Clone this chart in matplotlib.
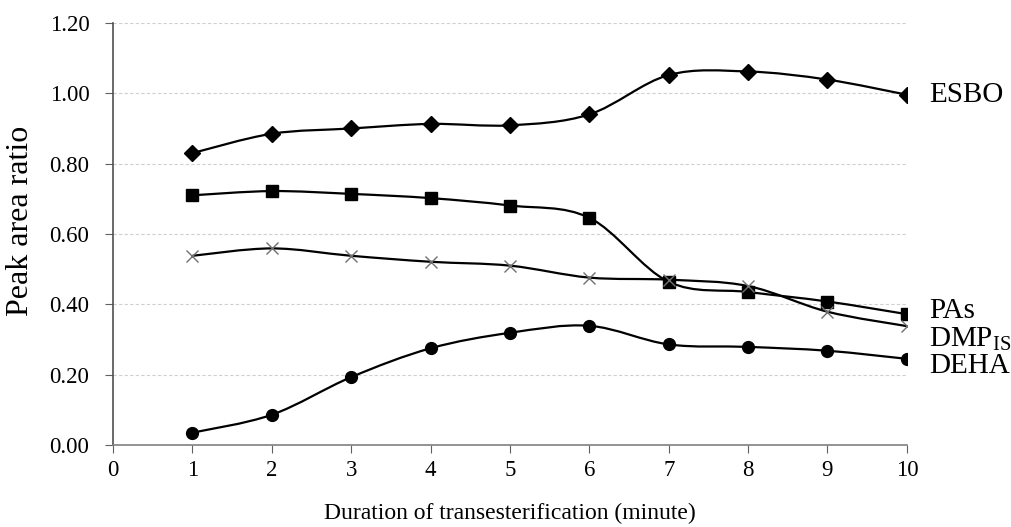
import numpy as np
import matplotlib
matplotlib.use("Agg")
import matplotlib.pyplot as plt
from matplotlib.path import Path
from matplotlib.patches import PathPatch

plt.rcParams['font.family'] = ['Liberation Serif', 'DejaVu Serif']
plt.rcParams['mathtext.fontset'] = 'custom'
plt.rcParams['mathtext.rm'] = 'Liberation Serif'

minutes = [1, 2, 3, 4, 5, 6, 7, 8, 9, 10]
esbo = [0.830, 0.885, 0.900, 0.913, 0.909, 0.940, 1.052, 1.062, 1.039, 0.996]
pas = [0.710, 0.722, 0.714, 0.702, 0.681, 0.646, 0.464, 0.435, 0.408, 0.372]
dmp = [0.538, 0.559, 0.538, 0.521, 0.510, 0.476, 0.470, 0.452, 0.379, 0.338]
deha = [0.035, 0.086, 0.193, 0.275, 0.319, 0.339, 0.286, 0.279, 0.268, 0.245]

series_names = ['ESBO', 'PAs', r'DMP$_{\mathrm{IS}}$', 'DEHA']
xticks = list(range(0, 11))
yticks = [0.0, 0.2, 0.4, 0.6, 0.8, 1.0, 1.2]


def smooth_path(xs, ys):
    # Excel-like smoothed line: Catmull-Rom segments as cubic Bezier curves
    pts = np.column_stack([xs, ys]).astype(float)
    verts = [pts[0]]
    codes = [Path.MOVETO]
    n = len(pts)
    for i in range(n - 1):
        p0 = pts[i - 1] if i > 0 else pts[i]
        p1 = pts[i]
        p2 = pts[i + 1]
        p3 = pts[i + 2] if i + 2 < n else pts[i + 1]
        verts += [p1 + (p2 - p0) / 6, p2 - (p3 - p1) / 6, p2]
        codes += [Path.CURVE4] * 3
    return Path(verts, codes)


fig = plt.figure(figsize=(10.11, 5.27), dpi=100)
ax = fig.add_axes([0.1118, 0.1556, 0.7852, 0.8008])

styles = [
    (esbo, dict(marker='D', ms=8.5, color='black')),
    (pas, dict(marker='s', ms=9, color='black')),
    (dmp, dict(marker='x', ms=9, mew=1.0, color='#707070')),
    (deha, dict(marker='o', ms=8.5, color='black')),
]
for vals, st in styles:
    ax.add_patch(PathPatch(smooth_path(minutes, vals), fill=False,
                           ec='black', lw=1.6, zorder=2))
    ax.plot(minutes, vals, linestyle='none', zorder=3, **st)

offsets = [0, 2, -9, -5]
for vals, name, dy in zip([esbo, pas, dmp, deha], series_names, offsets):
    ax.annotate(name, xy=(minutes[-1], vals[-1]), xytext=(16, dy),
                textcoords='offset points', ha='left', va='center',
                fontsize=21, annotation_clip=False)

ax.set_xlim(0, 10)
ax.set_ylim(0, 1.2)
ax.set_xticks(xticks)
ax.set_yticks(yticks)
ax.set_yticklabels([f'{v:.2f}' for v in yticks])
ax.tick_params(axis='both', labelsize=16.5, direction='out', length=6,
               color='#606060')
ax.tick_params(axis='x', pad=4.5)
ax.tick_params(axis='y', pad=11)

ax.yaxis.grid(True, linestyle=(0, (3, 2)), color='#d0d0d0', lw=0.8)
ax.set_axisbelow(True)
for s in ['top', 'right']:
    ax.spines[s].set_visible(False)
ax.spines['left'].set_color('#505050')
ax.spines['bottom'].set_color('#808080')
ax.spines['left'].set_linewidth(1.2)
ax.spines['bottom'].set_linewidth(1.2)

ax.set_xlabel('Duration of transesterification (minute)', fontsize=17, labelpad=16)
ax.set_ylabel('Peak area ratio', fontsize=23)
ax.yaxis.set_label_coords(-0.098, 0.53)

fig.savefig('out.png', dpi=100)
